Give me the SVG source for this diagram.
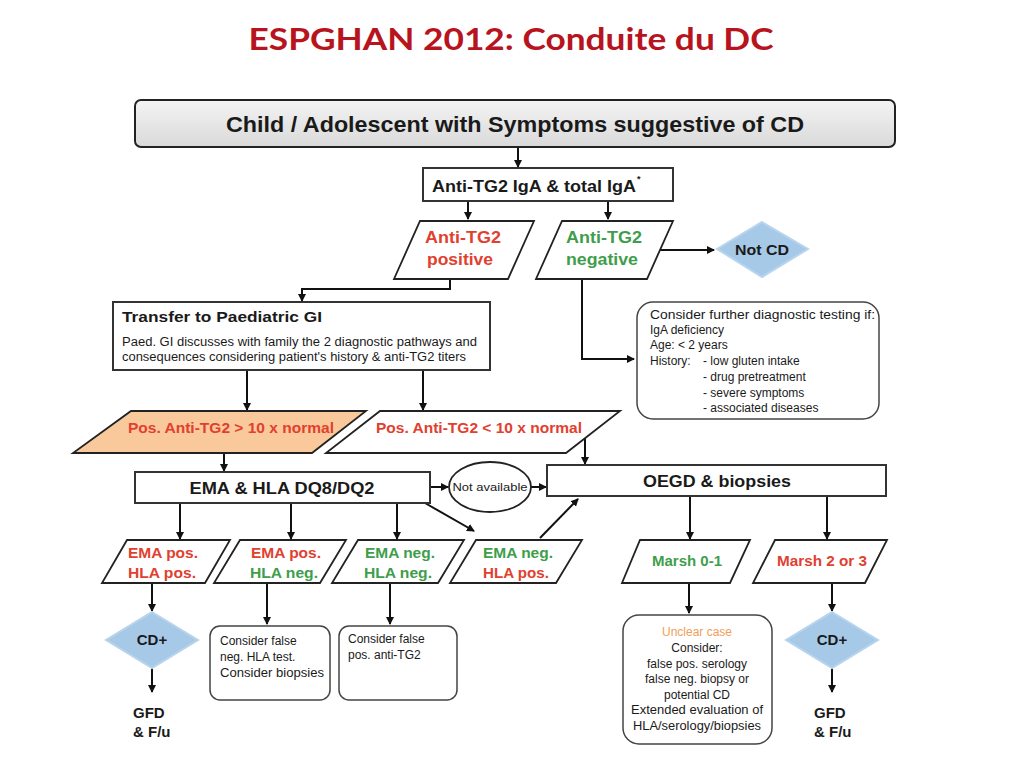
<svg xmlns="http://www.w3.org/2000/svg" width="1024" height="768" viewBox="0 0 1024 768">
<style>
text{font-family:"Liberation Sans",Arial,sans-serif;fill:#1a1a1a}
.title{font-family:Lato,"Liberation Sans",sans-serif;font-size:31px;font-weight:bold;fill:#b8141e;text-anchor:middle}
.b{font-weight:bold}
.m{text-anchor:middle}
.box{fill:#fff;stroke:#333;stroke-width:2}
.rbox{fill:#fff;stroke:#444;stroke-width:1.5}
.par{fill:#fff;stroke:#222;stroke-width:1.8}
.dia{fill:#a7c9e8;stroke:#b9d5ee;stroke-width:2}
.red{fill:#e2402f}
.grn{fill:#3e9e4b}
.org{fill:#f0a05a}
.conn{fill:none;stroke:#111;stroke-width:2;marker-end:url(#ah)}
.s12{font-size:12px}
.s14{font-size:14px}
.s15{font-size:15px}
.s17{font-size:17px}
</style>
<defs>
<marker id="ah" markerWidth="8" markerHeight="8" refX="7" refY="4" orient="auto" markerUnits="userSpaceOnUse">
<path d="M0,0 L8,4 L0,8 z" fill="#111"/>
</marker>
<linearGradient id="gg" x1="0" y1="0" x2="0" y2="1">
<stop offset="0" stop-color="#f4f4f4"/>
<stop offset="1" stop-color="#d9d9d9"/>
</linearGradient>
</defs>
<rect width="1024" height="768" fill="#ffffff"/>
<text class="title" x="511" y="50" textLength="525" lengthAdjust="spacingAndGlyphs">ESPGHAN 2012: Conduite du DC</text>

<g id="connectors">
<path class="conn" d="M518,147 V167"/>
<path class="conn" d="M468,201 V219"/>
<path class="conn" d="M608,201 V219"/>
<path class="conn" d="M450,279 V289 H302 V301"/>
<path class="conn" d="M582,279 V359 H634"/>
<path class="conn" d="M660,250 H714"/>
<path class="conn" d="M247,370 V410"/>
<path class="conn" d="M423,370 V410"/>
<path class="conn" d="M224,453 V471"/>
<path class="conn" d="M585,437 V464"/>
<path class="conn" d="M430,487 H448"/>
<path class="conn" d="M531,487 H546"/>
<path class="conn" d="M180,503 V539"/>
<path class="conn" d="M291,503 V539"/>
<path class="conn" d="M397,503 V539"/>
<path class="conn" d="M425,503 L474,531"/>
<path class="conn" d="M540,538 L578,499"/>
<path class="conn" d="M690,496 V539"/>
<path class="conn" d="M827,496 V539"/>
<path class="conn" d="M152,583 V611"/>
<path class="conn" d="M152,668 V692"/>
<path class="conn" d="M267,583 V624"/>
<path class="conn" d="M390,583 V624"/>
<path class="conn" d="M689,583 V613"/>
<path class="conn" d="M832,583 V611"/>
<path class="conn" d="M832,668 V692"/>
</g>

<g id="n-start">
<rect x="135" y="100" width="760" height="47" rx="6" fill="url(#gg)" stroke="#222" stroke-width="2"/>
<text class="b m" x="515" y="132" font-size="22" textLength="578" lengthAdjust="spacingAndGlyphs">Child / Adolescent with Symptoms suggestive of CD</text>
</g>

<g id="n-test">
<rect class="box" x="423" y="168" width="250" height="33"/>
<text class="b s17" x="432" y="192" textLength="204" lengthAdjust="spacingAndGlyphs">Anti-TG2 IgA &amp; total IgA</text>
<text class="b" x="637" y="182" font-size="9">*</text>
</g>

<g id="n-pos">
<polygon class="par" points="420,221 534,221 508,279 394,279"/>
<text class="b s17 m red" x="463" y="243" textLength="76" lengthAdjust="spacingAndGlyphs">Anti-TG2</text>
<text class="b s17 m red" x="460" y="265" textLength="66" lengthAdjust="spacingAndGlyphs">positive</text>
</g>

<g id="n-neg">
<polygon class="par" points="562,221 673,221 647,279 536,279"/>
<text class="b s17 m grn" x="604" y="243" textLength="76" lengthAdjust="spacingAndGlyphs">Anti-TG2</text>
<text class="b s17 m grn" x="602" y="265" textLength="72" lengthAdjust="spacingAndGlyphs">negative</text>
</g>

<g id="n-notcd">
<polygon class="dia" points="762,222 808,249 762,277 717,249"/>
<text class="b m" x="762" y="255" font-size="15" fill="#1a2340" textLength="54" lengthAdjust="spacingAndGlyphs">Not CD</text>
</g>

<g id="n-transfer">
<rect class="box" x="113" y="302" width="377" height="68"/>
<text class="b s15" x="122" y="322" textLength="200" lengthAdjust="spacingAndGlyphs">Transfer to Paediatric GI</text>
<text class="s12" x="122" y="346" textLength="355" lengthAdjust="spacingAndGlyphs">Paed. GI discusses with family the 2 diagnostic pathways and</text>
<text class="s12" x="122" y="361" textLength="344" lengthAdjust="spacingAndGlyphs">consequences considering patient's history &amp; anti-TG2 titers</text>
</g>

<g id="n-consider">
<rect class="rbox" x="637" y="302" width="242" height="117" rx="16"/>
<text class="s12" x="650" y="319" textLength="225" lengthAdjust="spacingAndGlyphs">Consider further diagnostic testing if:</text>
<text class="s12" x="650" y="334">IgA deficiency</text>
<text class="s12" x="650" y="349">Age: &lt; 2 years</text>
<text class="s12" x="650" y="365">History:</text>
<text class="s12" x="703" y="365">- low gluten intake</text>
<text class="s12" x="703" y="381">- drug pretreatment</text>
<text class="s12" x="703" y="397">- severe symptoms</text>
<text class="s12" x="703" y="412">- associated diseases</text>
</g>

<g id="n-high">
<polygon points="131,411 366,411 312,453 73,453" fill="#f9c99b" stroke="#222" stroke-width="1.8"/>
<text class="b s14 m red" x="231" y="433" textLength="206" lengthAdjust="spacingAndGlyphs">Pos. Anti-TG2 &gt; 10 x normal</text>
</g>

<g id="n-low">
<polygon class="par" points="380,411 620,411 566,453 326,453"/>
<text class="b s14 m red" x="479" y="433" textLength="206" lengthAdjust="spacingAndGlyphs">Pos. Anti-TG2 &lt; 10 x normal</text>
</g>

<g id="n-ema">
<rect class="box" x="135" y="472" width="295" height="31"/>
<text class="b s17 m" x="282" y="494" textLength="185" lengthAdjust="spacingAndGlyphs">EMA &amp; HLA DQ8/DQ2</text>
</g>

<g id="n-na">
<ellipse cx="490" cy="487" rx="41" ry="25" fill="#fff" stroke="#222" stroke-width="1.8"/>
<text class="m" x="490" y="491" font-size="11" textLength="75" lengthAdjust="spacingAndGlyphs">Not available</text>
</g>

<g id="n-oegd">
<rect class="box" x="547" y="465" width="339" height="31"/>
<text class="b s17 m" x="717" y="487" textLength="148" lengthAdjust="spacingAndGlyphs">OEGD &amp; biopsies</text>
</g>

<g id="n-pp">
<polygon class="par" points="127,540 230,540 205,583 102,583"/>
<text class="b s15 m red" x="163" y="558" textLength="70" lengthAdjust="spacingAndGlyphs">EMA pos.</text>
<text class="b s15 m red" x="162" y="578" textLength="68" lengthAdjust="spacingAndGlyphs">HLA pos.</text>
</g>

<g id="n-pn">
<polygon class="par" points="240,540 346,540 320,583 214,583"/>
<text class="b s15 m red" x="286" y="558" textLength="70" lengthAdjust="spacingAndGlyphs">EMA pos.</text>
<text class="b s15 m grn" x="284" y="578" textLength="68" lengthAdjust="spacingAndGlyphs">HLA neg.</text>
</g>

<g id="n-nn">
<polygon class="par" points="358,540 464,540 438,583 332,583"/>
<text class="b s15 m grn" x="400" y="558" textLength="70" lengthAdjust="spacingAndGlyphs">EMA neg.</text>
<text class="b s15 m grn" x="398" y="578" textLength="68" lengthAdjust="spacingAndGlyphs">HLA neg.</text>
</g>

<g id="n-np">
<polygon class="par" points="476,540 582,540 556,583 450,583"/>
<text class="b s15 m grn" x="518" y="558" textLength="70" lengthAdjust="spacingAndGlyphs">EMA neg.</text>
<text class="b s15 m red" x="516" y="578" textLength="66" lengthAdjust="spacingAndGlyphs">HLA pos.</text>
</g>

<g id="n-m01">
<polygon class="par" points="640,540 750,540 730,583 622,583"/>
<text class="b s14 m grn" x="687" y="566" textLength="70" lengthAdjust="spacingAndGlyphs">Marsh 0-1</text>
</g>

<g id="n-m23">
<polygon class="par" points="775,540 887,540 865,583 753,583"/>
<text class="b s14 m red" x="822" y="566" textLength="90" lengthAdjust="spacingAndGlyphs">Marsh 2 or 3</text>
</g>

<g id="n-cd1">
<polygon class="dia" points="152,612 198,640 152,668 106,640"/>
<text class="b m" x="152" y="645" font-size="15">CD+</text>
</g>

<g id="n-gfd1">
<text class="b" x="133" y="718" font-size="15">GFD</text>
<text class="b" x="133" y="737" font-size="15">&amp; F/u</text>
</g>

<g id="n-falsehla">
<rect class="rbox" x="210" y="626" width="120" height="74" rx="10"/>
<text class="s12" x="220" y="645">Consider false</text>
<text class="s12" x="220" y="661">neg. HLA test.</text>
<text class="s12" x="220" y="677" textLength="104" lengthAdjust="spacingAndGlyphs">Consider biopsies</text>
</g>

<g id="n-falsetg2">
<rect class="rbox" x="339" y="626" width="118" height="74" rx="10"/>
<text class="s12" x="348" y="643">Consider false</text>
<text class="s12" x="348" y="659">pos. anti-TG2</text>
</g>

<g id="n-unclear">
<rect class="rbox" x="623" y="615" width="149" height="129" rx="16"/>
<text class="s12 m org" x="697" y="636">Unclear case</text>
<text class="s12 m" x="697" y="652">Consider:</text>
<text class="s12 m" x="697" y="668">false pos. serology</text>
<text class="s12 m" x="697" y="683">false neg. biopsy or</text>
<text class="s12 m" x="697" y="699">potential CD</text>
<text class="s12 m" x="697" y="714" textLength="132" lengthAdjust="spacingAndGlyphs">Extended evaluation of</text>
<text class="s12 m" x="697" y="730" textLength="128" lengthAdjust="spacingAndGlyphs">HLA/serology/biopsies</text>
</g>

<g id="n-cd2">
<polygon class="dia" points="832,612 878,640 832,668 786,640"/>
<text class="b m" x="832" y="645" font-size="15">CD+</text>
</g>

<g id="n-gfd2">
<text class="b" x="814" y="718" font-size="15">GFD</text>
<text class="b" x="814" y="737" font-size="15">&amp; F/u</text>
</g>
</svg>
